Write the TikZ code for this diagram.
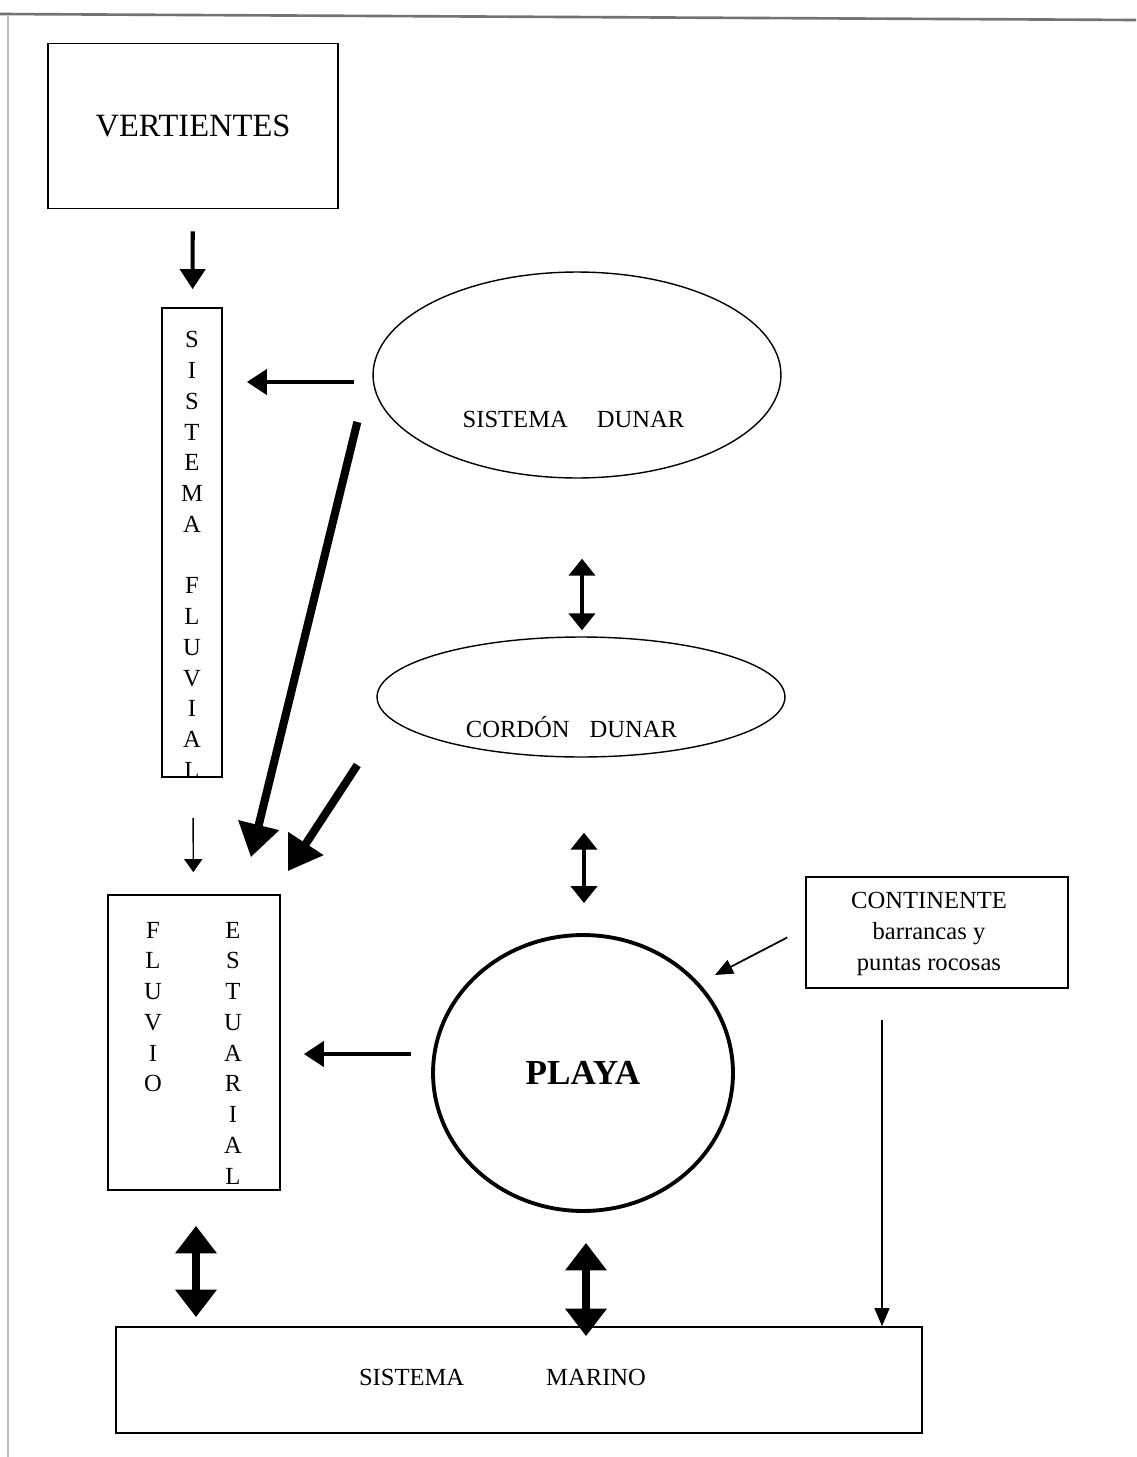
\documentclass[tikz,border=0pt]{standalone}
\usepackage{fontspec}
\setmainfont{Liberation Serif}
\usetikzlibrary{shapes.geometric,arrows.meta,calc}

\begin{document}
\begin{tikzpicture}[x=0.02cm,y=-0.02cm,
    caja/.style={draw,line width=1pt,inner sep=0pt},
    globo/.style={draw,ellipse,line width=0.8pt,inner sep=0pt},
    txt/.style={inner sep=0pt,font=\fontsize{14}{17.5}\selectfont},
    col/.style={txt,align=center},
    fina/.style={line width=1pt,-{Triangle[length=0.36cm,width=0.3cm]}},
    media/.style={line width=2.3pt,-{Triangle[length=0.4cm,width=0.5cm]}},
    doble/.style={line width=2.8pt,{Triangle[length=0.34cm,width=0.52cm]}-{Triangle[length=0.34cm,width=0.52cm]}},
    gruesa/.style={line width=4.6pt,-{Triangle[length=0.66cm,width=0.8cm]}},
    gruesadoble/.style={line width=5pt,{Triangle[length=0.55cm,width=0.8cm]}-{Triangle[length=0.55cm,width=0.8cm]}}]
  \useasboundingbox (0,0) rectangle (1136,1457);
  % borde del escaneo
  \draw[line width=1.5pt,black!55] (0,14) -- (1136,20);
  \draw[line width=0.6pt,black!25] (8,16) -- (8,1457);

  % cajas y elipses
  \node[caja,minimum width=5.8cm,minimum height=3.3cm,font=\fontsize{18.5}{22}\selectfont] (vert) at (193,126) {VERTIENTES};
  \node[caja,minimum width=1.2cm,minimum height=9.38cm] (fluv) at (192,542.5) {};
  \node[col] (fluvtxt) at (192,555) {S\\I\\S\\T\\E\\M\\A\\\mbox{}\\F\\L\\U\\V\\I\\A\\L};
  \node[globo,minimum width=8.16cm,minimum height=4.12cm] (dunar) at (577,375) {};
  \node[txt,anchor=base] (dunartxt) at (573.5,427) {SISTEMA\hspace{0.58cm}DUNAR};
  \node[globo,minimum width=8.16cm,minimum height=2.4cm] (cordon) at (581,697) {};
  \node[txt,anchor=base] (cordontxt) at (571.5,737) {CORDÓN\hspace{0.4cm}DUNAR};
  \node[caja,minimum width=3.44cm,minimum height=5.9cm] (estuario) at (194,1042.5) {};
  \node[col] (fluviotxt) at (153,1007) {F\\L\\U\\V\\I\\O};
  \node[col] (estuarialtxt) at (233,1053) {E\\S\\T\\U\\A\\R\\I\\A\\L};
  \node[draw,ellipse,line width=2.2pt,minimum width=6cm,minimum height=5.52cm,inner sep=0pt,font=\fontsize{20}{24}\selectfont\bfseries] (playa) at (583,1073) {PLAYA};
  \node[caja,minimum width=5.24cm,minimum height=2.22cm] (cont) at (937,932.5) {};
  \node[col] (conttxt) at (929,934) {CONTINENTE\\barrancas y\\puntas rocosas};
  \node[caja,minimum width=16.12cm,minimum height=2.12cm] (marino) at (519,1380) {};
  \node[txt,anchor=base] (marinotxt) at (502.5,1385) {SISTEMA\hspace{1.64cm}MARINO};

  % flechas
  \draw[media,shorten <=0.44cm,shorten >=0.36cm] (vert) -- (fluv);
  \draw[fina,line width=0.8pt,-{Triangle[length=0.26cm,width=0.36cm]},shorten <=0.8cm,shorten >=0.44cm] (fluv) -- (estuario);
  \draw[media] ($(dunar.west)+(-18,7)$) -- ($(fluv.east|-dunar.west)+(24,7)$);
  \draw[gruesa] ($(dunar.west)+(-15,47)$) -- ($(estuario.north east)+(-30,-37)$);
  \draw[gruesa] ($(cordon.west)+(-19,68)$) -- ($(estuario.north east)+(7,-23)$);
  \draw[doble] ($(dunar.south)+(5,80)$) -- ($(cordon.north)+(1,-6)$);
  \draw[doble] ($(cordon.south)+(3,75)$) -- ($(playa.north)+(1,-30)$);
  \draw[media] ($(playa.west)+(-20,-19)$) -- ($(estuario.east|-playa.west)+(23,-19)$);
  \draw[fina] ($(cont.west)+(-18,5)$) -- ($(playa.center)+(132,-98)$);
  \draw[fina,line width=0.7pt] ($(cont.south)+(-55,31)$) coordinate (bajada) -- (bajada|-marino.north);
  \draw[gruesadoble] ($(estuario.south)+(2,35)$) -- ($(estuario.south|-marino.north)+(2,-9)$);
  \draw[gruesadoble] ($(playa.south)+(3,30)$) -- ($(playa.south|-marino.north)+(3,10)$);
\end{tikzpicture}
\end{document}
